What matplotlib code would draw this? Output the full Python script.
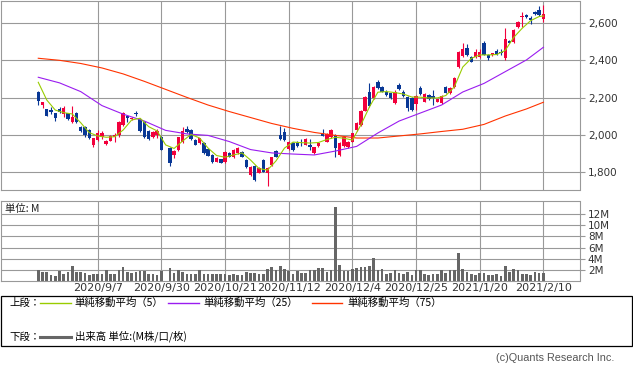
import numpy as np
import matplotlib
matplotlib.use("Agg")
import matplotlib.pyplot as plt
from matplotlib.patches import Rectangle
from matplotlib.lines import Line2D

plt.rcParams["font.family"] = ["DejaVu Sans", "Noto Sans CJK JP"]

# =====================================================
# DATA  (daily candles, index 0 .. 119, 10/1 no trading)
# =====================================================

opens = [2233, 2161, 2138, 2134, 2117, 2142, 2111, 2117, 2070, 2119,
         2042, 2045, 2027, 1947, 1973, 1988, 1950, 1970, 1991, 2000,
         2054, 2102, 2085, 2119, 2085, 2072, 2022, 1991, 2000, 1991,
         np.nan, 1932, 1893, 1920, 1962, 2031, 2027, 1973, 1956, 1959,
         1923, 1893, 1857, 1870, 1854, 1905, 1884, 1905, 1911, 1866,
         1785, 1835, 1798, 1866, 1798, 1839, 1914, 2000, 2018, 1923,
         1956, 1959, 1975, 1947, 1947, 1905, 1941, 2006, 1964, 1988,
         2000, 1893, 1941, 1934, 1964, 2027, 2054, 2131, 2233, 2197,
         2286, 2260, 2233, 2224, 2170, 2269, 2233, 2203, 2197, 2167,
         2251, 2179, 2215, 2210, 2179, 2170, 2256, 2227, 2260, 2367,
         2424, 2466, 2421, 2421, 2421, 2496, 2430, 2430, 2453, 2445,
         2412, 2507, 2501, 2582, 2633, 2645, 2627, 2661, 2671, 2621]

highs = [2237, 2178, 2140, 2149, 2120, 2152, 2158, 2120, 2156, 2122,
         2050, 2048, 2030, 1985, 2027, 2020, 1975, 2000, 2009, 2075,
         2126, 2108, 2096, 2130, 2090, 2075, 2025, 2022, 2031, 1995,
         np.nan, 1937, 1918, 1991, 2045, 2048, 2030, 1977, 1985, 1962,
         1926, 1896, 1884, 1873, 1914, 1911, 1925, 1935, 1916, 1870,
         1835, 1840, 1830, 1870, 1828, 1884, 1918, 2048, 2036, 1970,
         1962, 1966, 1980, 1985, 1977, 1937, 1964, 2030, 2010, 2030,
         2005, 1960, 1992, 1968, 2012, 2070, 2135, 2210, 2278, 2262,
         2295, 2265, 2240, 2228, 2240, 2278, 2240, 2208, 2203, 2215,
         2262, 2224, 2220, 2242, 2195, 2215, 2262, 2256, 2310, 2452,
         2492, 2489, 2425, 2460, 2462, 2502, 2436, 2440, 2462, 2460,
         2573, 2512, 2570, 2612, 2659, 2648, 2640, 2668, 2693, 2698]

lows = [2161, 2144, 2100, 2113, 2075, 2120, 2099, 2083, 2066, 2066,
        2015, 1991, 1980, 1937, 1968, 1977, 1946, 1966, 1964, 1988,
        2050, 2072, 2080, 2102, 2018, 1985, 1975, 1985, 1983, 1918,
        np.nan, 1834, 1875, 1916, 1958, 2012, 1973, 1944, 1952, 1898,
        1886, 1852, 1854, 1848, 1850, 1880, 1879, 1900, 1880, 1825,
        1780, 1755, 1794, 1800, 1727, 1835, 1880, 1973, 1970, 1918,
        1915, 1938, 1941, 1944, 1920, 1900, 1935, 1994, 1960, 1985,
        1881, 1888, 1937, 1930, 1960, 2024, 2050, 2128, 2150, 2192,
        2248, 2230, 2210, 2192, 2165, 2240, 2205, 2130, 2128, 2134,
        2215, 2175, 2188, 2161, 2175, 2165, 2224, 2222, 2255, 2360,
        2420, 2425, 2390, 2415, 2416, 2428, 2405, 2425, 2430, 2428,
        2405, 2495, 2495, 2576, 2582, 2630, 2595, 2645, 2640, 2609]

closes = [2184, 2176, 2104, 2122, 2093, 2124, 2147, 2086, 2099, 2068,
          2023, 2000, 1983, 1983, 2009, 2009, 1970, 1995, 2000, 2072,
          2117, 2090, 2093, 2115, 2023, 1988, 1977, 2018, 2023, 1920,
          np.nan, 1848, 1916, 1988, 2022, 2018, 1977, 1947, 1983, 1902,
          1889, 1857, 1879, 1852, 1911, 1884, 1920, 1929, 1884, 1830,
          1830, 1759, 1825, 1803, 1825, 1881, 1884, 1977, 1973, 1964,
          1920, 1941, 1971, 1979, 1934, 1934, 1959, 1997, 2006, 2027,
          1929, 1956, 1988, 1964, 2009, 2066, 2131, 2206, 2156, 2256,
          2251, 2233, 2215, 2197, 2233, 2246, 2210, 2145, 2134, 2210,
          2220, 2219, 2192, 2197, 2192, 2210, 2227, 2251, 2305, 2448,
          2460, 2430, 2394, 2448, 2448, 2430, 2412, 2439, 2435, 2440,
          2514, 2496, 2564, 2609, 2636, 2632, 2618, 2650, 2645, 2650]

# volume in millions of shares
volume = [1.95, 1.53, 1.59, 1.10, 0.86, 1.70, 1.23, 1.59, 2.67, 1.53,
          1.53, 1.35, 1.10, 1.17, 1.29, 1.17, 1.95, 1.23, 1.17, 1.95,
          2.49, 1.53, 1.47, 1.53, 1.77, 1.70, 1.29, 1.17, 1.10, 1.83,
          np.nan, 2.30, 1.35, 1.95, 1.59, 1.29, 1.23, 1.23, 1.89, 1.17,
          1.23, 1.23, 1.29, 1.23, 1.23, 1.10, 1.29, 1.10, 1.10, 1.53,
          1.35, 1.47, 1.29, 1.29, 2.07, 2.43, 2.00, 2.67, 2.07, 1.80,
          1.14, 1.74, 1.38, 1.38, 1.86, 1.86, 2.22, 2.22, 1.56, 1.98,
          13.3, 2.76, 1.74, 1.74, 2.04, 2.22, 2.46, 2.46, 2.64, 4.02,
          1.98, 2.04, 1.26, 1.38, 1.86, 1.38, 1.20, 1.50, 1.02, 1.86,
          1.86, 1.26, 0.96, 1.14, 1.14, 1.86, 1.38, 1.98, 1.86, 5.00,
          2.04, 1.56, 1.26, 1.02, 1.38, 1.38, 1.02, 1.02, 1.14, 0.78,
          2.58, 1.56, 2.04, 1.86, 1.20, 1.20, 1.02, 1.56, 1.38, 1.38]

# moving averages
ma5_idx = list(range(0, 120, 2)) + [119]
ma5 = [2283, 2188, 2134, 2120, 2113, 2066, 2013, 1995, 1988, 1991,
       2027, 2081, 2090, 2045, 2022, 1947, 1928, 1968, 2003, 1984,
       1930, 1890, 1881, 1893, 1904, 1866, 1820, 1812, 1861, 1930,
       1962, 1959, 1957, 1960, 1976, 1988, 1983, 1973, 2054, 2150,
       2230, 2233, 2228, 2220, 2204, 2203, 2199, 2199, 2212, 2258,
       2365, 2411, 2430, 2430, 2432, 2454, 2524, 2573, 2614, 2636,
       2639]

ma_long_idx = list(range(0, 120, 5)) + [119]
ma25 = [2310, 2280, 2233, 2158, 2112, 2075, 2025, 2006, 1998, 1965,
        1922, 1904, 1898, 1893, 1914, 1939, 2011, 2075, 2118, 2161,
        2231, 2277, 2340, 2403, 2471]
ma75 = [2412, 2401, 2384, 2360, 2328, 2288, 2245, 2202, 2161, 2126,
        2094, 2062, 2036, 2014, 1998, 1984, 1984, 1995, 2006, 2019,
        2031, 2057, 2102, 2140, 2176]

date_pos = [14, 29, 44, 59, 74, 89, 104, 119]
date_labels = ["2020/9/7", "2020/9/30", "2020/10/21", "2020/11/12",
               "2020/12/4", "2020/12/25", "2021/1/20", "2021/2/10"]

price_ticks = [1800, 2000, 2200, 2400, 2600]
price_labels = ["1,800", "2,000", "2,200", "2,400", "2,600"]
vol_ticks = [2, 4, 6, 8, 10, 12]
vol_labels = ["2M", "4M", "6M", "8M", "10M", "12M"]

# =====================================================
# STYLE
# =====================================================

UP = "#f2003c"
DOWN = "#083795"
C_MA5 = "#99cc00"
C_MA25 = "#9a1cf0"
C_MA75 = "#ff3300"
GRID = "#999999"
VOL = "#666666"
TXT = "#333333"
W, H = 633, 372
JP = ["Noto Sans CJK JP", "DejaVu Sans"]


def fx(px):
    return px / W


def fy(py):
    return 1 - py / H


fig = plt.figure(figsize=(6.33, 3.72), dpi=100)

ax1 = fig.add_axes([fx(0.5), fy(190), fx(579), (190 - 0.5) / H])
ax2 = fig.add_axes([fx(0.5), fy(280.8), fx(579), (280.8 - 201) / H])

for ax in (ax1, ax2):
    ax.set_xlim(-8.9, 127.5)
    ax.set_axisbelow(True)
    for s in ax.spines.values():
        s.set_color(GRID)
        s.set_linewidth(0.8)
    ax.grid(True, color=GRID, linewidth=0.8)
    ax.set_xticks(date_pos)
    ax.yaxis.tick_right()
    ax.tick_params(axis="y", length=3.5, width=0.8, color=GRID,
                   pad=2.5, labelsize=7.5, labelcolor=TXT)
    ax.tick_params(axis="x", length=0)

# =====================================================
# CANDLES + MOVING AVERAGES
# =====================================================

o = np.array(opens, float)
hi = np.array(highs, float)
lo = np.array(lows, float)
c = np.array(closes, float)
x = np.arange(len(c))
ok = ~np.isnan(c)

up = ok & (c >= o)
dn = ok & (c < o)
body_low = np.minimum(o, c)
body_h = np.maximum(np.abs(c - o), 4)

for mask, col in [(up, UP), (dn, DOWN)]:
    ax1.vlines(x[mask], lo[mask], hi[mask], color=col, linewidth=0.8, zorder=2)
    ax1.bar(x[mask], body_h[mask], bottom=body_low[mask], width=0.8,
            color=col, linewidth=0, zorder=2)

ax1.plot(ma_long_idx, ma75, color=C_MA75, linewidth=0.8, zorder=3)
ax1.plot(ma_long_idx, ma25, color=C_MA25, linewidth=0.8, zorder=3)
ax1.plot(ma5_idx, ma5, color=C_MA5, linewidth=0.8, zorder=3)

ax1.set_ylim(1705, 2722)
ax1.set_yticks(price_ticks)
ax1.set_yticklabels(price_labels)
ax1.set_xticklabels([])

# =====================================================
# VOLUME
# =====================================================

v = np.array(volume, float)
vok = ~np.isnan(v)
ax2.bar(x[vok], v[vok], width=0.62, color=VOL, linewidth=0, zorder=2)
ax2.set_ylim(0, 14.38)
ax2.set_yticks(vol_ticks)
ax2.set_yticklabels(vol_labels)
ax2.set_xticklabels(date_labels, fontsize=8, color=TXT)
ax2.tick_params(axis="x", pad=1.5)

fig.text(fx(5), fy(209), "単位: M", family=JP, fontsize=7.5,
         color="#222222", va="center", ha="left")

# =====================================================
# LEGEND BOX
# =====================================================

fig.add_artist(Rectangle((fx(0.5), fy(346)), fx(631.5), (346 - 295.7) / H,
                         transform=fig.transFigure, fill=False,
                         edgecolor="#000000", linewidth=0.9))

row1, row2 = 302.5, 336.5
fig.text(fx(9), fy(row1), "上段：", family=JP, fontsize=7.5,
         va="center", ha="left")
fig.text(fx(9), fy(row2), "下段：", family=JP, fontsize=7.5,
         va="center", ha="left")

legend_items = [
    (40, 70.6, 74.7, C_MA5, "単純移動平均（5）"),
    (167.5, 198.6, 203, C_MA25, "単純移動平均（25）"),
    (312, 342, 347, C_MA75, "単純移動平均（75）"),
]
for x0, x1, xt, col, label in legend_items:
    fig.add_artist(Line2D([fx(x0), fx(x1)], [fy(row1), fy(row1)],
                          transform=fig.transFigure, color=col, linewidth=1.0))
    fig.text(fx(xt), fy(row1), label, family=JP, fontsize=7.5,
             va="center", ha="left")

fig.add_artist(Line2D([fx(40), fx(70.6)], [fy(row2), fy(row2)],
                      transform=fig.transFigure, color=VOL, linewidth=2.2))
fig.text(fx(75), fy(row2), "出来高 単位:(M株/口/枚)", family=JP,
         fontsize=7.5, va="center", ha="left")

fig.text(fx(614.5), fy(358.3), "(c)Quants Research Inc.",
         family=["Liberation Sans", "DejaVu Sans"], fontsize=7.8,
         color="#555555", va="center", ha="right")

fig.savefig("out.png", dpi=100)
